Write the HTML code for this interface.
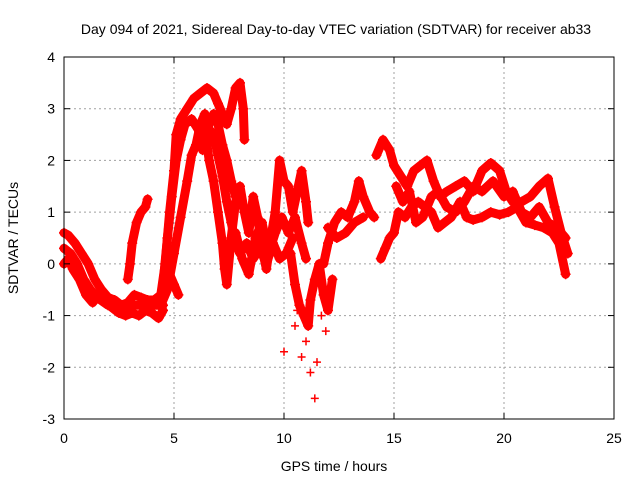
<!DOCTYPE html>
<html><head><meta charset="utf-8"><style>
body{margin:0;background:#fff;}
svg text{font-family:"Liberation Sans",sans-serif;font-size:14px;fill:#000;}
</style></head><body>
<svg id="c" width="640" height="480">
<rect width="640" height="480" fill="#fff"/>
<text x="336" y="34" text-anchor="middle">Day 094 of 2021, Sidereal Day-to-day VTEC variation (SDTVAR) for receiver ab33</text>
<text x="334" y="471" text-anchor="middle">GPS time / hours</text>
<text transform="translate(18,238) rotate(-90)" text-anchor="middle">SDTVAR / TECUs</text>
<g id="grid"></g><g id="marks"></g><g id="axes"></g>
</svg>
<script>
const xTicks=[0,5,10,15,20,25];
const yTicks=[-3,-2,-1,0,1,2,3,4];
const trackEarlyUpper=[[0,0.6],[0.2,0.55],[0.5,0.4],[0.8,0.2],[1.1,0],[1.4,-0.3],[1.7,-0.5],[2,-0.65],[2.3,-0.7],[2.6,-0.8],[2.9,-0.75],[3.2,-0.6],[3.5,-0.65],[3.8,-0.7],[4.1,-0.7],[4.4,-0.6],[4.6,-0.3],[4.8,-0.2],[5.0,-0.4],[5.2,-0.6]];
const trackEarlyLower=[[0,0],[0.2,0.1],[0.4,-0.1],[0.7,-0.3],[1,-0.6],[1.3,-0.75],[1.6,-0.6],[1.9,-0.75],[2.2,-0.85],[2.5,-0.95],[2.8,-1.0],[3.1,-0.95],[3.4,-1.0],[3.7,-0.9],[4.0,-0.95],[4.3,-1.05],[4.5,-0.9]];
const trackEarlyMid=[[0,0.3],[0.3,0.2],[0.6,0.0],[0.9,-0.3],[1.2,-0.5],[1.5,-0.65],[2.0,-0.8],[2.5,-0.85],[3.0,-0.8],[3.5,-0.8],[4.0,-0.8],[4.5,-0.8]];
const trackMorningBranch=[[2.9,-0.3],[3.0,0],[3.1,0.4],[3.3,0.8],[3.5,1.0],[3.7,1.1],[3.8,1.25]];
const trackRiseA=[[4.4,-0.6],[4.6,0],[4.8,1.0],[5.0,1.8],[5.1,2.5],[5.3,2.8],[5.6,3.0],[5.9,3.2],[6.2,3.3],[6.5,3.4],[6.8,3.3],[7.0,3.1],[7.2,2.9],[7.4,2.7],[7.6,3.0],[7.8,3.4],[8.0,3.5],[8.15,3.0],[8.2,2.4]];
const trackRiseC=[[4.5,-0.4],[4.7,0.5],[4.9,1.3],[5.1,2.0],[5.3,2.4],[5.5,2.7],[5.8,2.8],[6.1,2.6],[6.3,2.2],[6.5,2.6],[6.8,2.9],[7.0,2.7],[7.2,2.3],[7.4,2.0],[7.6,1.6],[7.8,1.3]];
const trackRiseB=[[4.4,-0.8],[4.7,-0.5],[5.0,0.2],[5.3,0.9],[5.6,1.6],[5.8,2.1],[6.0,2.3],[6.2,2.7],[6.4,2.9],[6.6,2.6],[6.8,2.5],[7.0,2.1],[7.2,1.7],[7.4,1.2],[7.6,0.8],[7.8,0.4],[8.0,0.2],[8.3,0.4],[8.6,0.1],[8.9,0.3],[9.2,0],[9.5,0.4],[9.8,0.1],[10.1,0.2],[10.4,0.5]];
const trackMidScatter=[[6.4,2.6],[6.6,2.0],[6.8,1.6],[7.0,1.0],[7.2,0.4],[7.3,-0.1],[7.4,-0.4],[7.6,0.5],[7.8,1.2],[8.0,1.5],[8.2,1.0],[8.4,0.6],[8.6,1.3],[8.8,0.9],[9.0,0.3],[9.2,-0.1],[9.4,0.5],[9.6,1.0],[9.8,2.0],[10.0,1.6],[10.2,1.5],[10.4,1.0],[10.6,1.4],[10.8,1.8],[11.0,1.2],[11.1,0.8]];
const trackMidLow=[[7.8,0.6],[8.1,0.1],[8.4,-0.2],[8.7,0.5],[9.0,0.8],[9.3,0.2],[9.6,0.6],[9.9,0.9],[10.2,0.6],[10.5,0.9],[10.8,0.4],[11.0,0.1]];
const trackDip=[[10.3,0.2],[10.5,-0.4],[10.7,-0.8],[10.9,-1.0],[11.1,-1.2],[11.2,-0.7],[11.4,-0.3],[11.6,0],[11.8,-0.6],[12.0,-0.9],[12.2,-0.3]];
const trackOutliers=[[10.0,-1.7],[10.5,-1.2],[10.8,-1.8],[11.2,-2.1],[11.4,-2.6],[11.5,-1.9],[11.9,-1.3],[10.6,-0.9],[11.0,-1.5],[11.7,-1.0]];
const trackAfternoon=[[11.8,0],[12.0,0.4],[12.3,0.8],[12.6,1.0],[12.9,0.9],[13.2,1.2],[13.4,1.6],[13.6,1.3],[13.9,1.0],[14.1,0.9]];
const trackAfternoonLow=[[12.0,0.7],[12.4,0.5],[12.8,0.6],[13.2,0.8],[13.6,0.9]];
const trackEveningLow=[[14.4,0.1],[14.6,0.3],[14.8,0.5],[15.0,0.6],[15.2,1.0],[15.5,0.9],[15.8,1.1],[16.1,1.2],[16.4,1.1],[16.7,1.0],[17.0,0.7],[17.3,0.8],[17.6,0.9],[18.0,1.2],[18.3,0.9],[18.6,0.85],[19.0,0.9],[19.4,1.0],[19.8,0.95],[20.2,1.0],[20.6,1.1],[21.0,0.8],[21.4,0.75],[21.8,0.7],[22.2,0.6],[22.5,0.4],[22.8,-0.2]];
const trackEveningHigh=[[14.2,2.1],[14.5,2.4],[14.8,2.2],[15.0,1.9],[15.3,1.7],[15.6,1.5],[15.9,1.8],[16.2,1.9],[16.5,2.0],[16.8,1.6],[17.1,1.3],[17.4,1.4],[17.8,1.5],[18.2,1.6],[18.6,1.4],[19.0,1.8],[19.4,1.95],[19.8,1.8],[20.1,1.4],[20.4,1.2],[20.8,1.2],[21.2,1.3],[21.6,1.5],[22.0,1.65],[22.3,1.1],[22.6,0.6],[22.9,0.2]];
const trackEveningMid=[[15.1,1.5],[15.4,1.2],[15.7,1.4],[16.0,0.8],[16.3,0.9],[16.7,1.3],[17.0,1.4],[17.4,1.1],[17.8,1.0],[18.2,1.2],[18.6,1.5],[19.0,1.4],[19.5,1.6],[20.0,1.3],[20.4,1.4],[20.8,1.0],[21.2,0.9],[21.6,1.1],[22.0,0.8],[22.4,0.7],[22.8,0.5]];
const tracks=[trackEarlyUpper,trackEarlyLower,trackEarlyMid,trackMorningBranch,trackRiseA,trackRiseC,trackRiseB,trackMidScatter,trackMidLow,trackDip,trackAfternoon,trackAfternoonLow,trackEveningLow,trackEveningHigh,trackEveningMid];
const ns="http://www.w3.org/2000/svg";
const X0=64,X1=614,Y0=419,Y1=57;
function sx(h){return X0+(h-0)/(25-0)*(X1-X0);}
function sy(v){return Y0-(v-(-3))/(4-(-3))*(Y0-Y1);}
const grid=document.getElementById('grid'),marks=document.getElementById('marks'),axes=document.getElementById('axes');
function mk(tag,attrs,parent){const e=document.createElementNS(ns,tag);for(const k in attrs)e.setAttribute(k,attrs[k]);parent.appendChild(e);return e;}
xTicks.forEach(t=>{
 if(t>0&&t<25){const l=mk('line',{x1:sx(t),x2:sx(t),y1:Y0,y2:Y1,stroke:'#a0a0a0','stroke-dasharray':'2,3'},grid);
 
 }
 const k=mk('line',{x1:sx(t),x2:sx(t),y1:Y0,y2:Y0-6,stroke:'#000'},axes);
 
 
 mk('line',{x1:sx(t),x2:sx(t),y1:Y1,y2:Y1+6,stroke:'#000'},axes);
 const tx=mk('text',{x:sx(t),y:Y0+24,'text-anchor':'middle'},axes);tx.textContent=t;
 
 
});
yTicks.forEach(t=>{
 if(t>-3&&t<4){const l=mk('line',{x1:X0,x2:X1,y1:sy(t),y2:sy(t),stroke:'#a0a0a0','stroke-dasharray':'2,3'},grid);
 
 }
 const k=mk('line',{x1:X0,x2:X0+6,y1:sy(t),y2:sy(t),stroke:'#000'},axes);
 
 
 mk('line',{x1:X1,x2:X1-6,y1:sy(t),y2:sy(t),stroke:'#000'},axes);
 const tx=mk('text',{x:X0-9,y:sy(t)+5,'text-anchor':'end'},axes);tx.textContent=t;
 
 
});
const fr=mk('rect',{x:X0,y:Y1,width:X1-X0,height:Y0-Y1,fill:'none',stroke:'#000'},axes);


tracks.forEach(tr=>{
 const pl=mk('polyline',{points:tr.map(p=>sx(p[0])+','+sy(p[1])).join(' '),fill:'none',stroke:'#ff0000','stroke-width':9,'stroke-linejoin':'round','stroke-linecap':'round'},marks);
 
 
 tr.forEach(p=>{
  const m=mk('path',{d:`M${sx(p[0])-5},${sy(p[1])}h10M${sx(p[0])},${sy(p[1])-5}v10`,stroke:'#ff0000','stroke-width':1.5},marks);
  
  
 });
});
trackOutliers.forEach(p=>{
 const m=mk('path',{d:`M${sx(p[0])-4},${sy(p[1])}h8M${sx(p[0])},${sy(p[1])-4}v8`,stroke:'#ff0000','stroke-width':1.5},marks);
 
 
});
</script>
</body></html>
